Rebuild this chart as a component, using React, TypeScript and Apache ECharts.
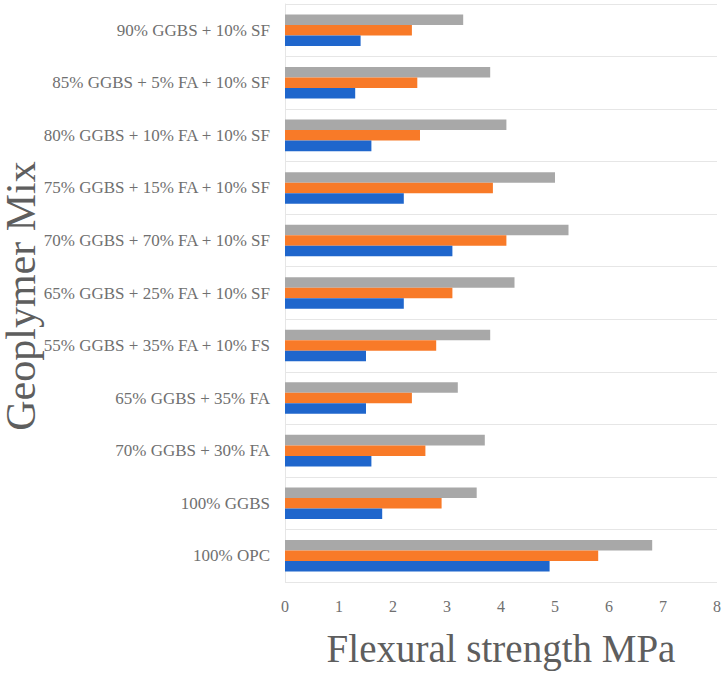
import React, { useEffect, useRef } from "react";
import * as echarts from "echarts";

const categories = [
  "100% OPC",
  "100% GGBS",
  "70% GGBS + 30% FA",
  "65% GGBS + 35% FA",
  "55% GGBS + 35% FA + 10% FS",
  "65% GGBS + 25% FA + 10% SF",
  "70% GGBS + 70% FA + 10% SF",
  "75% GGBS + 15% FA + 10% SF",
  "80% GGBS + 10% FA + 10% SF",
  "85% GGBS + 5% FA + 10% SF",
  "90% GGBS + 10% SF",
];

const blueValues = [4.9, 1.8, 1.6, 1.5, 1.5, 2.2, 3.1, 2.2, 1.6, 1.3, 1.4];
const orangeValues = [5.8, 2.9, 2.6, 2.35, 2.8, 3.1, 4.1, 3.85, 2.5, 2.45, 2.35];
const grayValues = [6.8, 3.55, 3.7, 3.2, 3.8, 4.25, 5.25, 5.0, 4.1, 3.8, 3.3];

const xTicks = [0, 1, 2, 3, 4, 5, 6, 7, 8];

const FONT = "'Liberation Serif', 'Times New Roman', serif";

export default function App() {
  const ref = useRef<HTMLDivElement>(null);
  useEffect(() => {
    if (!ref.current) return;
    const chart = echarts.init(ref.current, undefined, { renderer: "svg" });
    chart.setOption({
      animation: false,
      backgroundColor: "#ffffff",
      grid: { left: 285, right: 9, top: 4, bottom: 88, containLabel: false },
      xAxis: {
        type: "value",
        min: xTicks[0],
        max: xTicks[xTicks.length - 1],
        interval: 1,
        axisLine: { show: false },
        axisTick: { show: false },
        splitLine: { show: false },
        axisLabel: { fontFamily: FONT, fontSize: 16, color: "#707070", margin: 16 },
        name: "Flexural strength MPa",
        nameLocation: "middle",
        nameGap: 47,
        nameTextStyle: { fontFamily: FONT, fontSize: 39, color: "#5e5e5e" },
      },
      yAxis: {
        type: "category",
        data: categories,
        axisLine: { show: true, lineStyle: { color: "#e6e6e6" } },
        axisTick: { show: false },
        splitLine: { show: true, lineStyle: { color: "#e6e6e6" } },
        axisLabel: { fontFamily: FONT, fontSize: 17, color: "#707070", margin: 15 },
      },
      graphic: [
        {
          type: "text",
          x: 21,
          y: 296,
          rotation: Math.PI / 2,
          style: {
            text: "Geoplymer Mix",
            fontFamily: FONT,
            fontSize: 42,
            fill: "#5e5e5e",
            align: "center",
            verticalAlign: "middle",
          },
        },
      ],
      series: [
        {
          name: "Gray",
          type: "bar",
          data: grayValues,
          itemStyle: { color: "#a8a8a8" },
          barGap: "0%",
          barCategoryGap: "40%",
        },
        {
          name: "Orange",
          type: "bar",
          data: orangeValues,
          itemStyle: { color: "#f87a28" },
          barGap: "0%",
          barCategoryGap: "40%",
        },
        {
          name: "Blue",
          type: "bar",
          data: blueValues,
          itemStyle: { color: "#1f66cc" },
          barGap: "0%",
          barCategoryGap: "40%",
        },
      ],
    });
    return () => chart.dispose();
  }, []);
  return (
    <div
      ref={ref}
      style={{ position: "fixed", left: 0, top: 0, width: 726, height: 673, background: "#fff" }}
    />
  );
}
